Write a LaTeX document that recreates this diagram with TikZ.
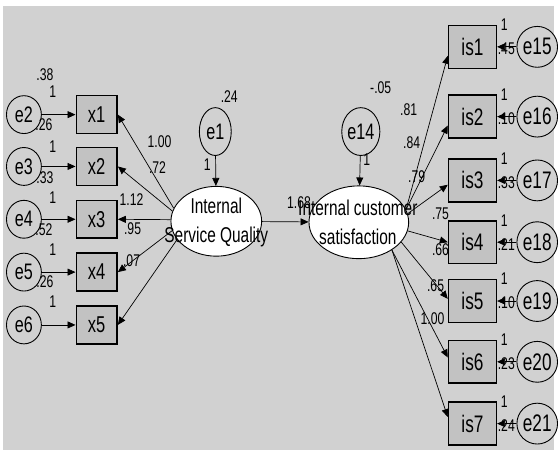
\documentclass[tikz,border=0pt]{standalone}
\usepackage{fontspec}
\setmainfont{Liberation Sans}[FakeStretch=0.72]
\usetikzlibrary{arrows.meta, shapes.geometric}

\definecolor{bggray}{gray}{0.82}
\definecolor{boxgray}{gray}{0.76}

\begin{document}
\begin{tikzpicture}[x=1pt, y=-1pt,
  obs/.style={draw, line width=1.5pt, fill=boxgray, minimum width=41pt, minimum height=38pt, inner sep=0pt, font=\fontsize{23}{23}\selectfont},
  obsr/.style={obs, minimum width=48pt, minimum height=43pt, font=\fontsize{24}{24}\selectfont},
  err/.style={draw, ellipse, line width=0.9pt, fill=bggray, minimum width=35pt, minimum height=38pt, inner sep=0pt, font=\fontsize{22.5}{22.5}\selectfont},
  errr/.style={err, minimum width=37pt, minimum height=41pt, font=\fontsize{24}{24}\selectfont},
  lat/.style={draw, ellipse, line width=0.9pt, fill=white, inner sep=0pt},
  lattext/.style={inner sep=0pt, align=center, font=\fontsize{21.5}{29}\selectfont},
  num/.style={inner sep=0pt, font=\fontsize{17}{17}\selectfont},
  reg/.style={-{Triangle[length=8pt,width=7pt]}, line width=0.7pt}]

% background
\fill[white] (0,0) rectangle (558,453);
\fill[bggray] (3,6) rectangle (556,451);

% latent variables
\node[lat, minimum width=91pt, minimum height=70pt] (isq) at (217,222) {};
\node[lattext] at (217,223) {Internal\\Service Quality};
\node[lat, minimum width=100pt, minimum height=73pt] (ics) at (360,223) {};
\node[lattext] at (359,223) {Internal customer\\satisfaction};
\node[err, minimum width=32pt, minimum height=48pt] (e1) at (216,132) {e1};
\node[err, minimum width=34pt, minimum height=48pt] (e14) at (362,132) {e14};

% left indicators
\node[obs] (x1) at (97,115) {x1};
\node[obs] (x2) at (97,167) {x2};
\node[obs] (x3) at (97,220) {x3};
\node[obs] (x4) at (97,273) {x4};
\node[obs] (x5) at (97,326) {x5};
\node[err] (e2) at (24,115) {e2};
\node[err] (e3) at (24,167) {e3};
\node[err] (e4) at (24,220) {e4};
\node[err] (e5) at (24,273) {e5};
\node[err] (e6) at (24,326) {e6};

% right indicators
\node[obsr] (is1) at (474,47) {is1};
\node[obsr] (is2) at (474,117) {is2};
\node[obsr] (is3) at (474,181) {is3};
\node[obsr] (is4) at (474,243) {is4};
\node[obsr] (is5) at (474,302) {is5};
\node[obsr] (is6) at (474,363) {is6};
\node[obsr] (is7) at (474,425) {is7};
\node[errr] (e15) at (539,47) {e15};
\node[errr] (e16) at (539,117) {e16};
\node[errr] (e17) at (539,181) {e17};
\node[errr] (e18) at (539,243) {e18};
\node[errr] (e19) at (539,302) {e19};
\node[errr] (e20) at (539,363) {e20};
\node[errr] (e21) at (539,425) {e21};

% error paths
\draw[reg] (e1) -- (isq);
\draw[reg] (e14) -- (ics);
\draw[reg] (e2) -- (x1);
\draw[reg] (e3) -- (x2);
\draw[reg] (e4) -- (x3);
\draw[reg] (e5) -- (x4);
\draw[reg] (e6) -- (x5);
\draw[reg] (e15) -- (is1);
\draw[reg] (e16) -- (is2);
\draw[reg] (e17) -- (is3);
\draw[reg] (e18) -- (is4);
\draw[reg] (e19) -- (is5);
\draw[reg] (e20) -- (is6);
\draw[reg] (e21) -- (is7);

% loadings
\draw[reg] (isq.163) -- (x1.east);
\draw[reg] (isq.167) -- (x2.east);
\draw[reg] (isq.178) -- (x3.east);
\draw[reg] (isq.192) -- (x4.east);
\draw[reg] (isq.205) -- (x5.east);
\draw[reg] (isq) -- (ics);
\draw[reg] (ics.15) -- (is1.200);
\draw[reg] (ics.15) -- (is2.200);
\draw[reg] (ics.10) -- (is3.190);
\draw[reg] (ics.350) -- (is4.west);
\draw[reg] (ics.335) -- (is5.175);
\draw[reg] (ics.320) -- (is6.170);
\draw[reg] (ics.320) -- (is7.165);

% estimates, left
\node[num] at (45,75) {.38};
\node[num] at (53,92) {1};
\node[num] at (44,125) {.26};
\node[num] at (53,147) {1};
\node[num] at (45,178) {.33};
\node[num] at (53,198) {1};
\node[num] at (44,230) {.52};
\node[num] at (53,250) {1};
\node[num] at (45,283) {.26};
\node[num] at (53,303) {1};
\node[num] at (160,142) {1.00};
\node[num] at (158,168) {.72};
\node[num] at (132,200) {1.12};
\node[num] at (133,229) {.95};
\node[num] at (132,262) {.07};
\node[num] at (230,97) {.24};
\node[num] at (208,165) {1};
\node[num] at (300,203) {1.68};

% estimates, right
\node[num] at (382,88) {-.05};
\node[num] at (368,160) {1};
\node[num] at (410,110) {.81};
\node[num] at (413,143) {.84};
\node[num] at (418,177) {.79};
\node[num] at (442,214) {.75};
\node[num] at (442,250) {.66};
\node[num] at (437,287) {.65};
\node[num] at (434,320) {1.00};
\node[num] at (506,25) {1};
\node[num] at (508,49) {.45};
\node[num] at (506,95) {1};
\node[num] at (508,119) {.10};
\node[num] at (506,159) {1};
\node[num] at (508,183) {.33};
\node[num] at (506,221) {1};
\node[num] at (508,245) {.21};
\node[num] at (506,280) {1};
\node[num] at (508,304) {.10};
\node[num] at (506,341) {1};
\node[num] at (508,365) {.23};
\node[num] at (506,403) {1};
\node[num] at (508,427) {.24};
\end{tikzpicture}
\end{document}
